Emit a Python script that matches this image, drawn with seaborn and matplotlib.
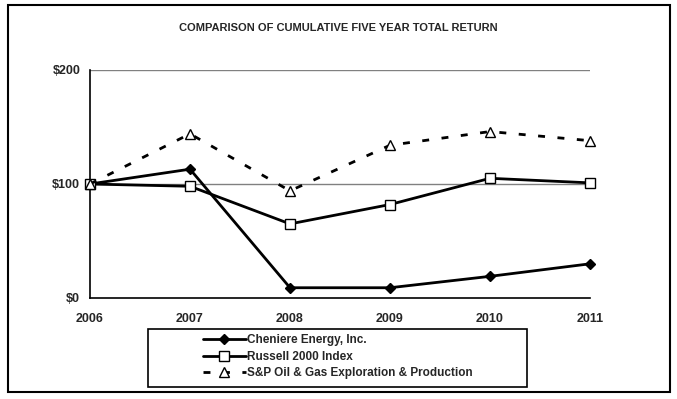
import matplotlib
matplotlib.use("Agg")
import matplotlib.pyplot as plt
import pandas as pd
import seaborn as sns
from matplotlib.patches import Rectangle
from matplotlib.ticker import FuncFormatter

years = [2006, 2007, 2008, 2009, 2010, 2011]
cheniere = [100, 113, 9, 9, 19, 30]
russell = [100, 98, 65, 82, 105, 101]
sp_oil_gas = [100, 144, 94, 134, 146, 138]
series_names = [
    "Cheniere Energy, Inc.",
    "Russell 2000 Index",
    "S&P Oil & Gas Exploration & Production",
]
y_ticks = [0, 100, 200]

sns.set_style("white")
plt.rcParams["font.family"] = ["Liberation Sans", "DejaVu Sans"]

df = pd.DataFrame({"year": years, series_names[0]: cheniere,
                   series_names[1]: russell, series_names[2]: sp_oil_gas})
long = df.melt(id_vars="year", var_name="series", value_name="value")

fig = plt.figure(figsize=(6.77, 3.99), dpi=100)
ax = fig.add_axes([90 / 677, 1 - 298 / 399, 500 / 677, 228 / 399])

for y in y_ticks[1:]:
    ax.axhline(y, color="#808080", lw=1, zorder=0)

# marker / line style per series (black & white like the source)
styles = {
    series_names[0]: dict(marker="D", ms=5, mfc="black", ls="-"),
    series_names[1]: dict(marker="s", ms=6.5, mfc="white", ls="-"),
    series_names[2]: dict(marker="^", ms=7, mfc="white", ls=(0, (2.5, 4.5))),
}
for name in series_names:
    sub = long[long["series"] == name]
    st = styles[name]
    sns.lineplot(data=sub, x="year", y="value", ax=ax, color="black", lw=2,
                 linestyle=st["ls"], marker=st["marker"], markersize=st["ms"],
                 markerfacecolor=st["mfc"], markeredgecolor="black",
                 markeredgewidth=1, label=name, legend=False, zorder=3,
                 clip_on=False)

ax.set_xlim(years[0], years[-1])
ax.set_ylim(0, 200)
ax.set_xticks(years)
ax.set_yticks(y_ticks)
ax.yaxis.set_major_formatter(FuncFormatter(lambda v, p: f"${v:.0f}"))
ax.set_xlabel("")
ax.set_ylabel("")
ax.tick_params(axis="both", direction="out", length=4, width=1, color="black",
               labelsize=9)
ax.tick_params(axis="x", pad=7)
ax.tick_params(axis="y", pad=3)
for lab in ax.get_xticklabels() + ax.get_yticklabels():
    lab.set_fontweight("bold")
ax.spines["top"].set_visible(False)
ax.spines["right"].set_visible(False)
for s in ("left", "bottom"):
    ax.spines[s].set_color("black")
    ax.spines[s].set_linewidth(1.2)

fig.text(338 / 677, 1 - 28 / 399, "COMPARISON OF CUMULATIVE FIVE YEAR TOTAL RETURN",
         ha="center", va="center", fontsize=8, fontweight="bold", fontstretch="condensed")

# legend box drawn separately, legend entries placed inside it
fig.patches.append(Rectangle((148 / 677, 1 - 387 / 399), 379 / 677, 58 / 399,
                             transform=fig.transFigure, fill=False,
                             edgecolor="black", lw=1.2))
handles, labels = ax.get_legend_handles_labels()
leg = fig.legend(handles, labels, loc="upper left",
                 bbox_to_anchor=(203 / 677, 1 - 334 / 399),
                 frameon=False, handlelength=3.6, handletextpad=0.15,
                 borderpad=0, borderaxespad=0, labelspacing=0.4,
                 prop={"weight": "bold", "size": 8.5})

fig.patches.append(Rectangle((8 / 677, 1 - 392 / 399), 662 / 677, 387 / 399,
                             transform=fig.transFigure, fill=False,
                             edgecolor="black", lw=1.5))

fig.savefig("out.png", dpi=100)
